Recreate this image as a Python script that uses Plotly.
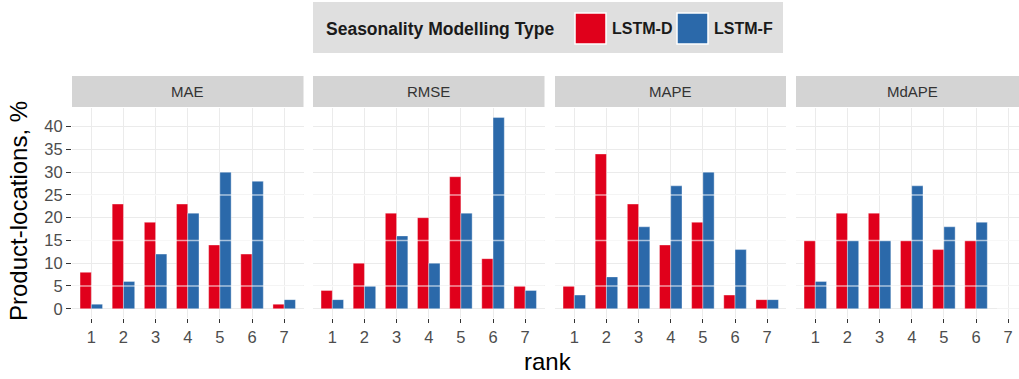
import plotly.graph_objects as go

W, H = 1019, 379

metrics = ["MAE", "RMSE", "MAPE", "MdAPE"]
ranks = [1, 2, 3, 4, 5, 6, 7]
series_names = ["LSTM-D", "LSTM-F"]
lstm_d = {
    "MAE":   [8, 23, 19, 23, 14, 12, 1],
    "RMSE":  [4, 10, 21, 20, 29, 11, 5],
    "MAPE":  [5, 34, 23, 14, 19, 3, 2],
    "MdAPE": [15, 21, 21, 15, 13, 15, 0],
}
lstm_f = {
    "MAE":   [1, 6, 12, 21, 30, 28, 2],
    "RMSE":  [2, 5, 16, 10, 21, 42, 4],
    "MAPE":  [3, 7, 18, 27, 30, 13, 2],
    "MdAPE": [6, 15, 15, 27, 18, 19, 0],
}
y_ticks = [0, 5, 10, 15, 20, 25, 30, 35, 40]
legend_title = "Seasonality Modelling Type"

RED = "#E0001B"
BLUE = "#2B69AA"
colors = [RED, BLUE]
FONT = "Liberation Sans, Arial"

# panel pixel extents
panels_px = [(72, 303.5), (313, 544.5), (555, 786), (796, 1019)]
unit = 32.15
py_top, py_bot = 108, 318.3
strip_top, strip_bot = 76, 107

def fx(px):
    return px / W

def fy(py):
    return (H - py) / H

fig = go.Figure()
layout_axes = {}
shapes = []
annotations = []

for i, m in enumerate(metrics):
    ax = "" if i == 0 else str(i + 1)
    xa, ya = "x" + ax, "y" + ax
    for s, (name, data) in enumerate(zip(series_names, [lstm_d, lstm_f])):
        fig.add_trace(go.Bar(
            x=ranks, y=data[m], name=name, xaxis=xa, yaxis=ya,
            marker=dict(color=colors[s], line=dict(color="rgba(255,255,255,0.45)", width=0.8)),
            offsetgroup=str(s), showlegend=False,
        ))
    x0, x1 = panels_px[i]
    xr = [0.4, 0.4 + (x1 - x0) / unit]
    layout_axes["xaxis" + ax] = dict(
        domain=[fx(x0), fx(x1)], range=xr, anchor=ya,
        tickmode="array", tickvals=ranks, ticktext=[str(r) for r in ranks],
        showgrid=True, gridcolor="#EBEBEB", gridwidth=1, zeroline=False,
        ticks="outside", ticklen=4, tickcolor="#333333", tickwidth=1,
        tickfont=dict(family=FONT, size=16.5, color="#4D4D4D"),
        showline=False, fixedrange=True,
    )
    layout_axes["yaxis" + ax] = dict(
        domain=[fy(py_bot), fy(py_top)], range=[-2.1, 44.1], anchor=xa,
        tickmode="array", tickvals=y_ticks, ticktext=[str(t) for t in y_ticks],
        showticklabels=(i == 0), ticks="outside" if i == 0 else "",
        ticklen=5, tickcolor="#333333", tickwidth=1,
        tickfont=dict(family=FONT, size=16.5, color="#4D4D4D"),
        showgrid=True, gridcolor="#EBEBEB", gridwidth=1, zeroline=False,
        showline=False, fixedrange=True,
    )
    # strip
    shapes.append(dict(type="rect", xref="paper", yref="paper",
                       x0=fx(x0), x1=fx(x1), y0=fy(strip_bot), y1=fy(strip_top),
                       fillcolor="#D4D4D4", line=dict(width=0), layer="below"))
    annotations.append(dict(text=m, xref="paper", yref="paper",
                            x=fx((x0 + x1) / 2) if i < 3 else fx((x0 + x0 + 232) / 2),
                            y=fy((strip_top + strip_bot) / 2),
                            xanchor="center", yanchor="middle", showarrow=False,
                            font=dict(family=FONT, size=15, color="#333333")))
    # light overlay lines seen across bars
    for yv in [5, 15, 25]:
        shapes.append(dict(type="line", xref=xa + " domain", yref=ya,
                           x0=0, x1=1, y0=yv, y1=yv,
                           line=dict(color="rgba(255,255,255,0.6)", width=1.5), layer="above"))

# legend box (drawn manually)
shapes.append(dict(type="rect", xref="paper", yref="paper",
                   x0=fx(313), x1=fx(783), y0=fy(53), y1=fy(2),
                   fillcolor="#DFDFDF", line=dict(width=0), layer="below"))
annotations.append(dict(text="<b>" + legend_title + "</b>", xref="paper", yref="paper",
                        x=fx(324), y=fy(29), xanchor="left", yanchor="middle", showarrow=False,
                        font=dict(family=FONT, size=17.5, color="#1A1A1A")))
key_x = [575, 677]
for s, name in enumerate(series_names):
    kx = key_x[s]
    shapes.append(dict(type="rect", xref="paper", yref="paper",
                       x0=fx(kx), x1=fx(kx + 31), y0=fy(44), y1=fy(13),
                       fillcolor=colors[s], line=dict(color="white", width=1.5), layer="above"))
    annotations.append(dict(text="<b>" + name + "</b>", xref="paper", yref="paper",
                            x=fx(kx + 35), y=fy(29), xanchor="left", yanchor="middle", showarrow=False,
                            font=dict(family=FONT, size=16, color="#1A1A1A")))

# axis titles
annotations.append(dict(text="Product-locations, %", xref="paper", yref="paper",
                        x=fx(18), y=fy(211), xanchor="center", yanchor="middle", textangle=-90,
                        showarrow=False,
                        font=dict(family=FONT, size=24, color="#000000")))
annotations.append(dict(text="rank", xref="paper", yref="paper",
                        x=fx(548), y=fy(361), xanchor="center", yanchor="middle",
                        showarrow=False,
                        font=dict(family=FONT, size=24, color="#000000")))

fig.update_layout(
    width=W, height=H, margin=dict(l=0, r=0, t=0, b=0),
    paper_bgcolor="white", plot_bgcolor="white",
    barmode="group", bargap=0.3, bargroupgap=0,
    shapes=shapes, annotations=annotations, showlegend=False,
    **layout_axes,
)

fig.write_html("out.html")
